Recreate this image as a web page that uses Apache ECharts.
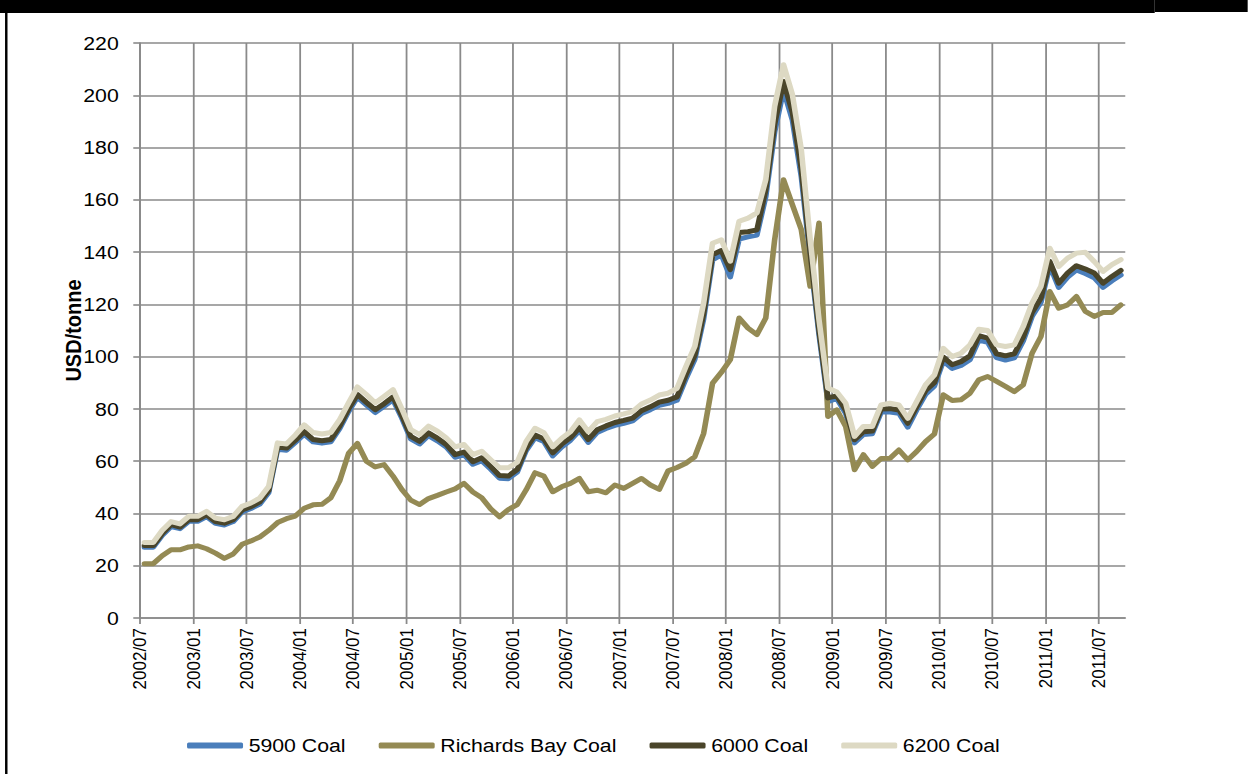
<!DOCTYPE html>
<html>
<head>
<meta charset="utf-8">
<title>Coal prices</title>
<script src="https://cdn.jsdelivr.net/npm/echarts@6/dist/echarts.min.js"></script>
<style>
  html, body { margin: 0; padding: 0; background: #fff; overflow: hidden; }
  /* The chart is laid out narrower and widened horizontally, which gives the
     slightly wide lettering of the printed original. */
  #chart { width: 1114px; height: 774px; transform: scaleX(1.12); transform-origin: 0 0; }
</style>
</head>
<body>
<div id="chart"></div>
<script>
// Monthly prices, USD/tonne, 2002/07 .. 2011/09
const tickLabels = ['2002/07', '2003/01', '2003/07', '2004/01', '2004/07', '2005/01', '2005/07',
  '2006/01', '2006/07', '2007/01', '2007/07', '2008/01', '2008/07', '2009/01', '2009/07',
  '2010/01', '2010/07', '2011/01', '2011/07'];

const coal5900 = [
  27.1, 27.1, 31.6, 35.0, 34.2, 37.0, 37.0, 38.8, 36.2, 35.6,
  36.9, 40.6, 41.9, 43.6, 48.0, 64.6, 64.2, 67.2, 70.3, 67.4,
  66.9, 67.4, 72.5, 79.0, 84.5, 81.5, 78.6, 81.0, 83.5, 76.5,
  68.5, 66.6, 69.8, 67.8, 65.4, 61.5, 62.5, 58.8, 60.2, 57.0,
  53.5, 53.3, 55.8, 64.0, 69.0, 67.5, 62.0, 65.4, 68.0, 71.7,
  67.2, 71.0, 72.5, 73.7, 74.5, 75.4, 78.2, 79.7, 81.4, 82.1,
  83.3, 91.5, 99.0, 114.5, 137.0, 139.0, 130.5, 145.0, 145.8, 146.5,
  161.3, 186.0, 202.0, 190.5, 169.0, 138.0, 108.5, 82.8, 84.0, 78.3,
  67.0, 70.2, 70.5, 78.8, 78.8, 78.3, 73.0, 79.6, 85.6, 88.8,
  98.3, 95.5, 96.6, 98.8, 106.3, 105.5, 99.6, 98.7, 99.5, 106.0,
  115.4, 120.8, 134.8, 126.5, 130.4, 133.2, 131.8, 130.2, 126.5, 129.0,
  131.2
];

const richardsBay = [
  20.8, 20.8, 23.8, 26.1, 26.1, 27.2, 27.6, 26.5, 24.8, 22.8,
  24.5, 28.2, 29.5, 31.0, 33.5, 36.5, 38.0, 39.0, 42.0, 43.3,
  43.5, 46.0, 52.5, 63.0, 66.8, 60.0, 57.8, 58.7, 54.3, 49.2,
  45.1, 43.4, 45.7, 46.9, 48.2, 49.4, 51.5, 48.2, 46.0, 41.8,
  38.7, 41.5, 43.4, 49.0, 55.6, 54.3, 48.3, 50.2, 51.5, 53.4,
  48.3, 48.9, 47.9, 50.9, 49.6, 51.5, 53.4, 50.9, 49.2, 56.3,
  57.6, 59.2, 61.7, 70.6, 89.8, 94.0, 98.8, 114.8, 110.9, 108.4,
  114.8, 144.7, 167.7, 158.1, 148.6, 126.9, 151.1, 77.1, 79.6, 73.3,
  56.7, 62.5, 58.0, 61.0, 61.1, 64.3, 60.5, 63.7, 67.5, 70.4,
  85.4, 83.2, 83.5, 86.0, 91.1, 92.4, 90.5, 88.6, 86.6, 89.2,
  101.3, 107.7, 124.9, 118.5, 119.8, 123.0, 117.3, 115.4, 116.9, 116.9,
  119.8
];

const coal6000 = [
  27.7, 27.7, 32.3, 35.7, 34.8, 37.6, 37.6, 39.5, 36.9, 36.3,
  37.6, 41.3, 42.6, 44.4, 48.8, 65.4, 65.0, 68.0, 71.3, 68.3,
  67.8, 68.3, 73.5, 80.0, 85.5, 82.5, 79.7, 82.0, 84.6, 77.5,
  69.5, 67.6, 70.8, 68.8, 66.4, 62.5, 63.5, 59.8, 61.3, 58.0,
  54.5, 54.3, 56.8, 65.0, 70.0, 68.5, 63.2, 66.5, 69.0, 72.8,
  68.3, 72.0, 73.5, 74.8, 75.6, 76.5, 79.3, 80.8, 82.6, 83.3,
  84.6, 93.0, 100.5, 116.5, 139.0, 140.6, 133.3, 147.5, 147.8, 148.5,
  163.9, 189.0, 205.3, 193.5, 172.0, 140.0, 110.0, 84.2, 85.0, 79.5,
  68.2, 71.3, 71.5, 80.0, 80.1, 79.6, 74.5, 80.9, 87.0, 90.1,
  99.8, 96.9, 98.1, 100.3, 108.0, 107.1, 101.1, 100.3, 101.1, 107.5,
  116.9, 122.4, 136.4, 128.1, 132.0, 134.8, 133.5, 132.0, 128.1, 130.7,
  133.0
];

const coal6200 = [
  28.9, 28.9, 33.5, 36.9, 36.0, 38.9, 38.9, 40.8, 38.2, 37.6,
  38.9, 42.7, 44.0, 45.9, 50.3, 67.0, 66.6, 70.0, 73.9, 71.0,
  70.4, 71.0, 75.9, 82.3, 88.4, 85.5, 82.3, 84.8, 87.4, 80.0,
  72.1, 70.2, 73.4, 71.5, 68.9, 65.5, 66.4, 62.5, 63.8, 60.6,
  57.5, 57.5, 59.6, 67.5, 72.6, 70.9, 65.5, 68.7, 71.3, 75.8,
  71.3, 75.1, 76.0, 77.3, 78.1, 79.0, 81.9, 83.4, 85.3, 86.0,
  87.9, 96.2, 103.9, 120.5, 143.4, 144.7, 136.5, 151.8, 153.0, 155.0,
  167.7, 195.8, 211.7, 200.2, 179.2, 145.0, 114.0, 88.0, 86.5, 82.2,
  69.5, 73.3, 73.3, 81.5, 82.2, 81.5, 76.4, 82.8, 89.2, 93.0,
  103.2, 100.0, 101.3, 104.5, 110.5, 110.0, 104.5, 103.9, 104.5, 111.5,
  120.5, 126.9, 141.5, 134.5, 137.7, 139.6, 139.9, 136.4, 132.6, 135.2,
  137.1
];

const seriesDefs = [
  { name: '5900 Coal', values: coal5900, color: '#4a7ebb' },
  { name: 'Richards Bay Coal', values: richardsBay, color: '#948a54' },
  { name: '6000 Coal', values: coal6000, color: '#4a452a' },
  { name: '6200 Coal', values: coal6200, color: '#ddd9c3' }
];

const MONTHS_PER_TICK = 6;
const monthCount = coal6200.length;
const tickValues = tickLabels.map((_, i) => i * MONTHS_PER_TICK);
const gridColor = '#8a8a8a';
const fontFamily = '"Liberation Sans", Arial, sans-serif';

// Each month occupies one unit on the x scale; the point sits mid-month.
const toPoints = values => values.map((v, i) => [i + 0.5, v]);

const chart = echarts.init(document.getElementById('chart'), null, { renderer: 'svg' });

chart.setOption({
  animation: false,
  backgroundColor: '#ffffff',
  textStyle: { fontFamily: fontFamily, color: '#000' },
  graphic: [
    { type: 'rect', z: 100, shape: { x: 0, y: 0, width: 1031, height: 13 }, style: { fill: '#000' } },
    { type: 'rect', z: 100, shape: { x: 1031, y: 0, width: 84, height: 12 }, style: { fill: '#000' } },
    { type: 'rect', z: 100, shape: { x: 4.5, y: 0, width: 2.2, height: 774 }, style: { fill: '#000' } }
  ],
  grid: { left: 125, top: 43, width: 879.7, height: 575, containLabel: false },
  xAxis: {
    type: 'value',
    min: 0,
    max: monthCount,
    interval: MONTHS_PER_TICK,
    axisLine: { show: true, onZero: false, lineStyle: { color: gridColor, width: 1.6 } },
    axisTick: { show: true, length: 6, customValues: tickValues, lineStyle: { color: gridColor, width: 1.6 } },
    axisLabel: {
      rotate: 90,
      margin: 10,
      fontSize: 17,
      color: '#000',
      fontFamily: fontFamily,
      customValues: tickValues,
      showMinLabel: true,
      showMaxLabel: true,
      formatter: v => (v % MONTHS_PER_TICK === 0 && tickLabels[v / MONTHS_PER_TICK]) || ''
    },
    splitLine: { show: true, lineStyle: { color: gridColor, width: 1.6 } }
  },
  yAxis: {
    type: 'value',
    min: 0,
    max: 220,
    interval: 20,
    name: 'USD/tonne',
    nameLocation: 'middle',
    nameGap: 50,
    nameMoveOverlap: false,
    nameTextStyle: { fontWeight: 'bold', fontSize: 20, color: '#000', fontFamily: fontFamily },
    axisLine: { show: true, lineStyle: { color: gridColor, width: 1.6 } },
    axisTick: { show: true, length: 6, lineStyle: { color: gridColor, width: 1.6 } },
    axisLabel: { fontSize: 19, color: '#000', margin: 19, fontFamily: fontFamily },
    splitLine: { show: true, lineStyle: { color: gridColor, width: 1.6 } }
  },
  legend: {
    left: 162,
    top: 731,
    icon: 'roundRect',
    itemWidth: 50,
    itemHeight: 6,
    itemGap: 29.5,
    textStyle: { fontSize: 19, color: '#000', fontFamily: fontFamily },
    data: seriesDefs.map(s => s.name)
  },
  series: seriesDefs.map(s => ({
    name: s.name,
    type: 'line',
    data: toPoints(s.values),
    showSymbol: false,
    symbol: 'none',
    smooth: false,
    color: s.color,
    lineStyle: { color: s.color, width: 5, cap: 'round', join: 'round' },
    emphasis: { disabled: true }
  }))
});
</script>
</body>
</html>
